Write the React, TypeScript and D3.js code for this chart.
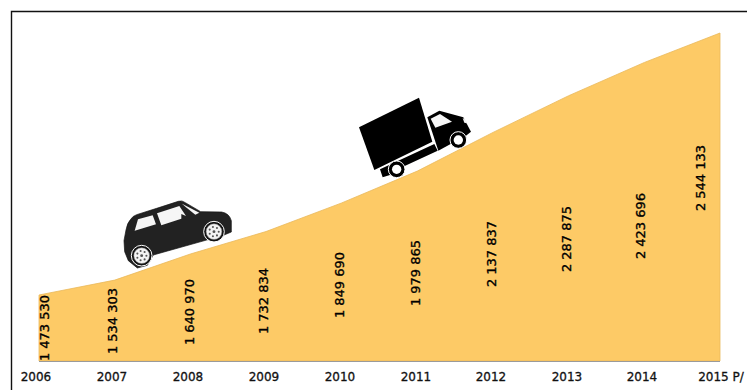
import React from "react";
import * as d3 from "d3";

const years = ["2006", "2007", "2008", "2009", "2010", "2011", "2012", "2013", "2014", "2015 P/"];
const values = [1473530, 1534303, 1640970, 1732834, 1849690, 1979865, 2137837, 2287875, 2423696, 2544133];
const valueLabels = ["1 473 530", "1 534 303", "1 640 970", "1 732 834", "1 849 690", "1 979 865", "2 137 837", "2 287 875", "2 423 696", "2 544 133"];

// Where each rotated figure sits, relative to its year and the plot height.
const labelShift = [5, -2, -1, -3, -2, -2, -2, -2, -4, -20];
const labelCenterY = [328, 321, 312, 301, 285, 273, 254, 239, 226, 178];
const tickCenterX = [36, 112, 188, 264, 340, 416, 491, 567, 642, 721];

const WIDTH = 747;
const HEIGHT = 390;
const FONT = "'DejaVu Sans', sans-serif";

function Wheel({ cx, cy, r }: { cx: number; cy: number; r: number }) {
  const angles = d3.range(7).map((i) => (i * 2 * Math.PI) / 7);
  return (
    <g>
      <circle cx={cx} cy={cy} r={r} fill="#111" stroke="#fff" strokeWidth={3} />
      <circle cx={cx} cy={cy} r={r * 0.76} fill="#f4f4f4" stroke="#777" strokeWidth={1.5} />
      {angles.map((a, i) => (
        <circle key={i} cx={cx + Math.cos(a) * r * 0.46} cy={cy + Math.sin(a) * r * 0.46} r={r * 0.1} fill="#555" />
      ))}
      <circle cx={cx} cy={cy} r={r * 0.14} fill="#555" />
    </g>
  );
}

function Car() {
  return (
    <g transform="translate(110,190) scale(0.3333)">
      <path
        d="M42 152 L48 120 Q52 98 62 88 Q68 78 80 74 L140 55 L205 34 Q216 30 226 38 L272 65 L335 66 Q358 70 364 92 L364 126 L340 136 L130 195 L112 226 L82 234 L55 212 L44 185 Z"
        fill="#222"
        stroke="#111"
        strokeWidth={2}
      />
      <path d="M74 122 L84 88 L128 76 L138 103 Z" fill="#f6f6f6" />
      <path d="M141 70 L208 48 L228 78 L214 72 L214 86 L154 106 Z" fill="#f6f6f6" />
      <path d="M216 41 L268 68 L256 74 L228 52 Z" fill="#f6f6f6" />
      <Wheel cx={95} cy={197} r={31} />
      <Wheel cx={312} cy={125} r={31} />
    </g>
  );
}

function Truck() {
  return (
    <g transform="translate(340,80) scale(0.3333)">
      <path d="M57 142 L237 53 L277 185 L103 270 Z" fill="#000" />
      <path d="M120 268 L283 192 L293 212 L186 262 L150 285 L128 292 Z" fill="#000" />
      <path d="M262 112 L298 92 L370 112 L393 155 L380 166 L295 212 Z" fill="#000" />
      <path d="M272 116 L300 102 L336 125 L286 143 Z" fill="#f6f6f6" />
      <path d="M368 114 L378 120 L381 130 L373 128 Z" fill="#f6f6f6" />
      <circle cx={355} cy={180} r={25} fill="#000" stroke="#fff" strokeWidth={3} />
      <circle cx={355} cy={180} r={14} fill="#fff" />
      <circle cx={170} cy={268} r={25} fill="#000" stroke="#fff" strokeWidth={3} />
      <circle cx={170} cy={268} r={14} fill="#fff" />
    </g>
  );
}

export default function App() {
  const x = d3.scalePoint<string>().domain(years).range([39, 720]);
  // The vertical axis does not start at zero: the baseline sits near 1.2 million.
  const y = d3.scaleLinear().domain([1203800, 2544133]).range([361, 33]);

  const area = d3
    .area<number>()
    .x((_, i) => x(years[i]) as number)
    .y0(y(1203800))
    .y1((d) => y(d))
    .curve(d3.curveLinear);

  return (
    <svg
      width={WIDTH}
      height={HEIGHT}
      viewBox={`0 0 ${WIDTH} ${HEIGHT}`}
      style={{ position: "absolute", left: 0, top: 0, background: "#fff" }}
    >
      <path d={`M11.5 390 V11.5 H${WIDTH}`} fill="none" stroke="#111" strokeWidth={1.4} />
      <path d={area(values) ?? ""} fill="#fdca66" stroke="#eab95a" strokeWidth={0.8} />
      <line x1={39} x2={720} y1={361.5} y2={361.5} stroke="#9a9a9a" strokeWidth={1} />

      {valueLabels.map((label, i) => {
        const lx = (x(years[i]) as number) + labelShift[i];
        return (
          <text
            key={label}
            transform={`translate(${lx},${labelCenterY[i]}) rotate(-90)`}
            textAnchor="middle"
            dominantBaseline="central"
            fontFamily={FONT}
            fontSize={13}
            fill="#000"
            stroke="#000"
            strokeWidth={0.35}
          >
            {label}
          </text>
        );
      })}

      {years.map((year, i) => (
        <text
          key={year}
          x={tickCenterX[i]}
          y={381}
          textAnchor="middle"
          fontFamily={FONT}
          fontSize={12}
          fill="#111"
          stroke="#111"
          strokeWidth={0.3}
        >
          {year}
        </text>
      ))}

      <Car />
      <Truck />
    </svg>
  );
}
